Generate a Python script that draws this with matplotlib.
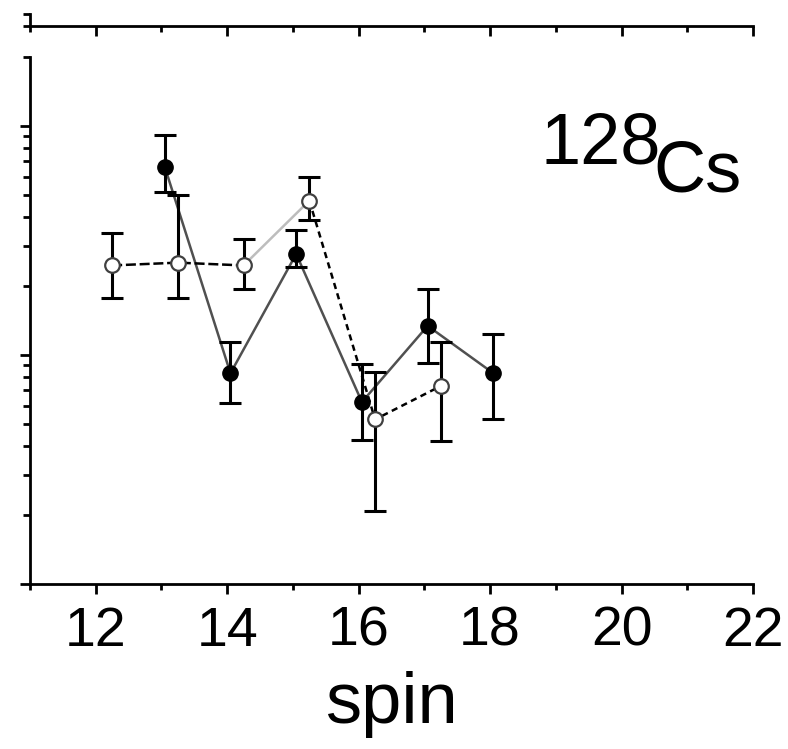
import matplotlib
matplotlib.use("Agg")
import matplotlib.pyplot as plt
import numpy as np

plt.rcParams['font.family'] = ['Liberation Sans Narrow', 'Liberation Sans', 'DejaVu Sans']

# ---- data ----
filled_spin = [13.05, 14.05, 15.05, 16.05, 17.05, 18.05]
filled_val = [66.3, 8.32, 27.6, 6.23, 13.4, 8.32]
filled_hi = [91.5, 11.4, 35.1, 9.13, 19.4, 12.3]
filled_lo = [51.7, 6.20, 24.3, 4.25, 9.20, 5.23]

open_spin = [12.25, 13.25, 14.25, 15.25, 16.25, 17.25]
open_val = [24.6, 25.3, 24.6, 47.2, 5.23, 7.32]
open_hi = [34.1, 49.9, 32.1, 60.1, 8.45, 11.4]
open_lo = [17.7, 17.8, 19.4, 38.8, 2.08, 4.23]

x_ticks = [12, 14, 16, 18, 20, 22]
x_tick_labels = ['12', '14', '16', '18', '20', '22']
x_label = 'spin'
nucleus_mass = '128'
nucleus_sym = 'Cs'

W, H = 788, 749
fig = plt.figure(figsize=(W / 100, H / 100), dpi=100)

left_px, right_px = 30, 753
ax = fig.add_axes([left_px / W, (H - 584) / H, (right_px - left_px) / W, (584 - 57) / H])
ax_top = fig.add_axes([left_px / W, (H - 26) / H, (right_px - left_px) / W, 12 / H])

lw = 2.0
for a in (ax, ax_top):
    for s in ('top', 'right'):
        a.spines[s].set_visible(False)
    for s in ('left', 'bottom'):
        a.spines[s].set_linewidth(lw)
    a.set_xlim(11, 22)
    a.set_xticks(x_ticks)
    a.set_xticks(np.arange(11, 23, 2), minor=True)
    a.tick_params(axis='x', which='major', direction='out', length=7.5, width=lw)
    a.tick_params(axis='x', which='minor', direction='out', length=4, width=lw)
    a.tick_params(axis='y', which='major', direction='out', length=7.5, width=lw)
    a.tick_params(axis='y', which='minor', direction='out', length=5, width=lw)

# upper (cut off) panel
ax_top.set_ylim(0, 1)
ax_top.set_yticks([0, 1])
ax_top.set_yticklabels([])
ax_top.set_xticklabels([])
ax_top.tick_params(axis='y', which='major', length=5)

# lower panel
ax.set_yscale('log')
ax.set_ylim(1, 200)
ax.yaxis.set_major_locator(matplotlib.ticker.LogLocator(base=10))
ax.yaxis.set_minor_locator(matplotlib.ticker.LogLocator(base=10, subs=np.arange(2, 10)))
ax.yaxis.set_major_formatter(matplotlib.ticker.NullFormatter())
ax.yaxis.set_minor_formatter(matplotlib.ticker.NullFormatter())
ax.set_xticklabels(x_tick_labels, fontsize=40)
ax.tick_params(axis='x', which='major', pad=8)
ax.set_xlabel(x_label, fontsize=52, labelpad=10)

fv = np.array(filled_val)
ov = np.array(open_val)

# connecting lines
ax.plot(filled_spin, filled_val, color='#505050', lw=1.8, zorder=2)
ax.plot(open_spin[:3], open_val[:3], color='black', lw=1.8, ls=(0, (4, 1.5)), zorder=2)
ax.plot(open_spin[2:4], open_val[2:4], color='#bdbdbd', lw=1.8, zorder=2)
ax.plot(open_spin[3:], open_val[3:], color='black', lw=1.8, ls=(0, (2.5, 1.8)), zorder=2)

# error bars
ax.errorbar(filled_spin, fv, yerr=[fv - np.array(filled_lo), np.array(filled_hi) - fv],
            fmt='none', ecolor='black', elinewidth=2.2, capsize=8, capthick=2.2, zorder=3)
ax.errorbar(open_spin, ov, yerr=[ov - np.array(open_lo), np.array(open_hi) - ov],
            fmt='none', ecolor='black', elinewidth=2.2, capsize=8, capthick=2.2, zorder=3)

# markers
ax.plot(filled_spin, filled_val, 'o', ms=11, mfc='black', mec='black', zorder=4)
ax.plot(open_spin, open_val, 'o', ms=10.5, mfc='white', mec='#404040', mew=1.6, zorder=4)

# nucleus label
fig.text(540 / W, (H - 163) / H, nucleus_mass, fontsize=52, ha='left', va='baseline')
fig.text(653 / W, (H - 192) / H, nucleus_sym, fontsize=52, ha='left', va='baseline')

fig.savefig('out.png', dpi=100)
